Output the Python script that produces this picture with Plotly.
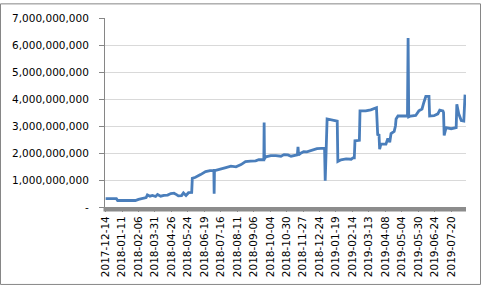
import plotly.graph_objects as go

# Category labels shown on the x axis (every 26th trading day)
tick_labels = ["2017-12-14", "2018-01-11", "2018-02-06", "2018-03-31", "2018-04-26",
               "2018-05-24", "2018-06-19", "2018-07-16", "2018-08-11", "2018-09-06",
               "2018-10-04", "2018-10-30", "2018-11-27", "2018-12-24", "2019-01-19",
               "2019-02-14", "2019-03-13", "2019-04-08", "2019-05-04", "2019-05-30",
               "2019-06-24", "2019-07-20"]
tick_step = 26

# Series vertices: category index and value
day_index = [0, 17, 19, 47, 52, 60, 64, 66, 70, 74, 79, 82, 87, 92, 98, 103, 108, 112, 115,
             120, 123, 127, 131, 136, 137, 142, 149, 150, 158, 165, 171, 171.5, 172, 174,
             182, 190, 198, 206, 214, 221, 229, 237, 242, 250, 250.5, 251, 253, 261, 269,
             277, 282, 288, 293, 297, 303, 304, 305, 309, 313, 318, 324, 329, 334, 346, 347,
             350, 356, 361, 366, 367, 372, 380, 388, 391, 393, 394, 400, 401, 402, 411, 419,
             424, 428, 430, 432, 433, 435, 443, 446, 449, 451, 456, 458, 459, 462, 475, 477,
             478, 479, 482, 490, 495, 500, 503, 506, 511, 512, 519, 525, 528, 533, 534, 535,
             538, 546, 554, 555, 558, 562, 566, 568]
values = [0.31, 0.31, 0.24, 0.24, 0.28, 0.33, 0.35, 0.45, 0.40, 0.43, 0.39, 0.46, 0.40, 0.43,
          0.44, 0.50, 0.51, 0.46, 0.41, 0.42, 0.52, 0.43, 0.53, 0.54, 1.06, 1.10, 1.17, 1.20,
          1.31, 1.35, 1.35, 0.49, 1.36, 1.36, 1.40, 1.46, 1.51, 1.49, 1.57, 1.68, 1.70, 1.71,
          1.75, 1.75, 3.13, 1.78, 1.86, 1.90, 1.90, 1.88, 1.94, 1.93, 1.88, 1.90, 1.93, 2.23,
          1.93, 2.00, 2.05, 2.04, 2.08, 2.11, 2.16, 2.18, 0.97, 3.26, 3.22, 3.20, 3.18, 1.69,
          1.75, 1.78, 1.77, 1.82, 1.82, 2.45, 2.47, 2.47, 3.56, 3.56, 3.60, 3.65, 3.68, 2.65,
          2.70, 2.14, 2.33, 2.33, 2.54, 2.40, 2.72, 2.80, 3.00, 3.26, 3.37, 3.37, 3.38, 6.26,
          3.34, 3.37, 3.39, 3.56, 3.63, 3.88, 4.10, 4.10, 3.37, 3.38, 3.45, 3.59, 3.56, 3.50,
          2.65, 2.94, 2.90, 2.94, 3.80, 3.45, 3.20, 3.18, 4.16]
values_abs = [v * 1e9 for v in values]

y_ticks = [0, 1e9, 2e9, 3e9, 4e9, 5e9, 6e9, 7e9]
y_tick_text = ["-", "1,000,000,000", "2,000,000,000", "3,000,000,000", "4,000,000,000",
               "5,000,000,000", "6,000,000,000", "7,000,000,000"]

fig = go.Figure(go.Scatter(x=day_index, y=values_abs, mode="lines",
                           line=dict(color="#4a7ebb", width=2.8), hoverinfo="skip"))

W, H = 481, 289
ml, mr, mt, mb = 105, 15, 15, 80
pw, ph = W - ml - mr, H - mt - mb

fig.update_layout(
    width=W, height=H,
    margin=dict(l=ml, r=mr, t=mt, b=mb, pad=0),
    paper_bgcolor="white", plot_bgcolor="white",
    showlegend=False,
    font=dict(family="DejaVu Sans", size=10.5, color="#000000"),
    xaxis=dict(range=[-1, 569.5], tickmode="array",
               tickvals=[i * tick_step for i in range(len(tick_labels))],
               ticktext=tick_labels, tickangle=-90, showgrid=False,
               showline=True, linecolor="#8c8c8c", linewidth=1,
               ticks="outside", ticklen=4, tickcolor="#8c8c8c", tickwidth=1,
               zeroline=False, fixedrange=True),
    yaxis=dict(range=[0, 7e9], tickmode="array", tickvals=y_ticks, ticktext=y_tick_text,
               showgrid=True, gridcolor="#d9d9d9", gridwidth=1,
               showline=True, linecolor="#868686", linewidth=1,
               ticks="outside", ticklen=5, tickcolor="#868686",
               ticklabelstandoff=8, zeroline=False, fixedrange=True),
    shapes=[
        dict(type="rect", xref="paper", yref="paper",
             x0=(0.5 - ml) / pw, x1=(W - 0.5 - ml) / pw,
             y0=(H - mb - (H - 0.5)) / ph, y1=(H - mb - 0.5) / ph,
             line=dict(color="#868686", width=1), layer="below"),
        dict(type="rect", xref="paper", yref="paper",
             x0=-1.5 / pw, x1=1, y0=-4.5 / ph, y1=0,
             line=dict(width=0), fillcolor="#8c8c8c", layer="above"),
    ],
)

fig.write_html("out.html")
